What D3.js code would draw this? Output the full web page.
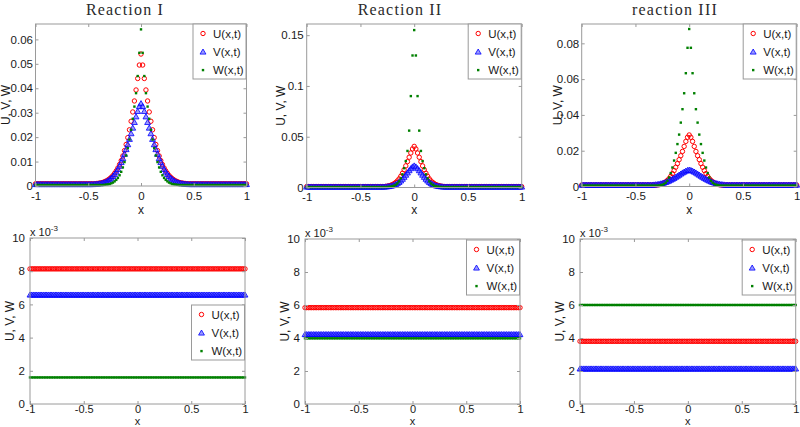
<!DOCTYPE html>
<html><head><meta charset="utf-8">
<script src="https://cdn.jsdelivr.net/npm/d3@7/dist/d3.min.js"></script>
<style>
body{margin:0;background:#fff}
svg{display:block}
text{font-family:"Liberation Sans",Arial,Helvetica,sans-serif}
</style>
</head><body>
<svg id="chart" width="800" height="427"></svg>
<script>
// ---------------- DATA ----------------
// spatial grid (129 points on [-1,1])
const xGrid = [
-1,-0.9844,-0.9688,-0.9531,-0.9375,-0.9219,-0.9063,-0.8906,
-0.875,-0.8594,-0.8438,-0.8281,-0.8125,-0.7969,-0.7813,-0.7656,
-0.75,-0.7344,-0.7188,-0.7031,-0.6875,-0.6719,-0.6563,-0.6406,
-0.625,-0.6094,-0.5938,-0.5781,-0.5625,-0.5469,-0.5313,-0.5156,
-0.5,-0.4844,-0.4688,-0.4531,-0.4375,-0.4219,-0.4063,-0.3906,
-0.375,-0.3594,-0.3438,-0.3281,-0.3125,-0.2969,-0.2813,-0.2656,
-0.25,-0.2344,-0.2188,-0.2031,-0.1875,-0.1719,-0.1563,-0.1406,
-0.125,-0.1094,-0.0938,-0.0781,-0.0625,-0.0469,-0.0313,-0.0156,
0,
0.0156,0.0313,0.0469,0.0625,0.0781,0.0938,0.1094,0.125,
0.1406,0.1563,0.1719,0.1875,0.2031,0.2188,0.2344,0.25,
0.2656,0.2813,0.2969,0.3125,0.3281,0.3438,0.3594,0.375,
0.3906,0.4063,0.4219,0.4375,0.4531,0.4688,0.4844,0.5,
0.5156,0.5313,0.5469,0.5625,0.5781,0.5938,0.6094,0.625,
0.6406,0.6563,0.6719,0.6875,0.7031,0.7188,0.7344,0.75,
0.7656,0.7813,0.7969,0.8125,0.8281,0.8438,0.8594,0.875,
0.8906,0.9063,0.9219,0.9375,0.9531,0.9688,0.9844,1
];

// Reaction I
const r1U = [
0.0009,0.0009,0.0009,0.0009,0.0009,0.0009,0.0009,0.0009,
0.0009,0.0009,0.0009,0.0009,0.0009,0.0009,0.0009,0.0009,
0.0009,0.0009,0.0009,0.0009,0.0009,0.0009,0.0009,0.0009,
0.0009,0.0009,0.0009,0.0009,0.0009,0.0009,0.0009,0.0009,
0.0009,0.0009,0.0009,0.0009,0.0009,0.0010,0.0011,0.0012,0.0013,0.0015,0.0018,0.0021,0.0025,0.0030,0.0036,0.0043,
0.0052,0.0062,0.0074,0.0088,0.0104,0.0123,0.0145,0.0170,0.0198,0.0230,0.0265,0.0303,0.0348,0.0393,0.0440,0.0495,
0.0540,
0.0495,0.0440,0.0393,0.0348,0.0303,0.0265,0.0230,0.0198,0.0170,0.0145,0.0123,0.0104,0.0088,0.0074,0.0062,0.0052,
0.0043,0.0036,0.0030,0.0025,0.0021,0.0018,0.0015,0.0013,0.0012,0.0011,0.0010,0.0009,0.0009,0.0009,0.0009,0.0009,
0.0009,0.0009,0.0009,0.0009,0.0009,0.0009,0.0009,0.0009,
0.0009,0.0009,0.0009,0.0009,0.0009,0.0009,0.0009,0.0009,
0.0009,0.0009,0.0009,0.0009,0.0009,0.0009,0.0009,0.0009,
0.0009,0.0009,0.0009,0.0009,0.0009,0.0009,0.0009,0.0009
];
const r1V = [
0.0007,0.0007,0.0007,0.0007,0.0007,0.0007,0.0007,0.0007,
0.0007,0.0007,0.0007,0.0007,0.0007,0.0007,0.0007,0.0007,
0.0007,0.0007,0.0007,0.0007,0.0007,0.0007,0.0007,0.0007,
0.0007,0.0007,0.0007,0.0007,0.0007,0.0007,0.0007,0.0007,
0.0007,0.0007,0.0007,0.0007,0.0008,0.0008,0.0009,0.0010,0.0011,0.0013,0.0015,0.0018,0.0022,0.0027,0.0033,0.0040,
0.0048,0.0058,0.0069,0.0082,0.0097,0.0113,0.0131,0.0150,0.0170,0.0192,0.0215,0.0238,0.0261,0.0284,0.0306,0.0326,
0.0338,
0.0326,0.0306,0.0284,0.0261,0.0238,0.0215,0.0192,0.0170,0.0150,0.0131,0.0113,0.0097,0.0082,0.0069,0.0058,0.0048,
0.0040,0.0033,0.0027,0.0022,0.0018,0.0015,0.0013,0.0011,0.0010,0.0009,0.0008,0.0008,0.0007,0.0007,0.0007,0.0007,
0.0007,0.0007,0.0007,0.0007,0.0007,0.0007,0.0007,0.0007,
0.0007,0.0007,0.0007,0.0007,0.0007,0.0007,0.0007,0.0007,
0.0007,0.0007,0.0007,0.0007,0.0007,0.0007,0.0007,0.0007,
0.0007,0.0007,0.0007,0.0007,0.0007,0.0007,0.0007,0.0007
];
const r1W = [
0.0004,0.0004,0.0004,0.0004,0.0004,0.0004,0.0004,0.0004,
0.0004,0.0004,0.0004,0.0004,0.0004,0.0004,0.0004,0.0004,
0.0004,0.0004,0.0004,0.0004,0.0004,0.0004,0.0004,0.0004,
0.0004,0.0004,0.0004,0.0004,0.0004,0.0004,0.0004,0.0004,
0.0004,0.0004,0.0004,0.0004,0.0004,0.0004,0.0004,0.0004,0.0004,0.0004,0.0005,0.0006,0.0007,0.0008,0.0011,0.0014,
0.0019,0.0025,0.0033,0.0044,0.0058,0.0076,0.0098,0.0125,0.0155,0.0190,0.0230,0.0275,0.0325,0.0380,0.0450,0.0545,
0.0641,
0.0545,0.0450,0.0380,0.0325,0.0275,0.0230,0.0190,0.0155,0.0125,0.0098,0.0076,0.0058,0.0044,0.0033,0.0025,0.0019,
0.0014,0.0011,0.0008,0.0007,0.0006,0.0005,0.0004,0.0004,0.0004,0.0004,0.0004,0.0004,0.0004,0.0004,0.0004,0.0004,
0.0004,0.0004,0.0004,0.0004,0.0004,0.0004,0.0004,0.0004,
0.0004,0.0004,0.0004,0.0004,0.0004,0.0004,0.0004,0.0004,
0.0004,0.0004,0.0004,0.0004,0.0004,0.0004,0.0004,0.0004,
0.0004,0.0004,0.0004,0.0004,0.0004,0.0004,0.0004,0.0004
];

// Reaction II
const r2U = [
0.0009,0.0009,0.0009,0.0009,0.0009,0.0009,0.0009,0.0009,
0.0009,0.0009,0.0009,0.0009,0.0009,0.0009,0.0009,0.0009,
0.0009,0.0009,0.0009,0.0009,0.0009,0.0009,0.0009,0.0009,
0.0009,0.0009,0.0009,0.0009,0.0009,0.0009,0.0009,0.0009,
0.0009,0.0009,0.0009,0.0009,0.0009,0.0009,0.0009,0.0009,0.0009,0.0009,0.0009,0.0009,0.0009,0.0009,0.0009,0.0011,
0.0013,0.0017,0.0022,0.0029,0.0038,0.0050,0.0065,0.0085,0.0110,0.0140,0.0175,0.0213,0.0255,0.0298,0.0340,0.0380,
0.0405,
0.0380,0.0340,0.0298,0.0255,0.0213,0.0175,0.0140,0.0110,0.0085,0.0065,0.0050,0.0038,0.0029,0.0022,0.0017,0.0013,
0.0011,0.0009,0.0009,0.0009,0.0009,0.0009,0.0009,0.0009,0.0009,0.0009,0.0009,0.0009,0.0009,0.0009,0.0009,0.0009,
0.0009,0.0009,0.0009,0.0009,0.0009,0.0009,0.0009,0.0009,
0.0009,0.0009,0.0009,0.0009,0.0009,0.0009,0.0009,0.0009,
0.0009,0.0009,0.0009,0.0009,0.0009,0.0009,0.0009,0.0009,
0.0009,0.0009,0.0009,0.0009,0.0009,0.0009,0.0009,0.0009
];
const r2V = [
0.0007,0.0007,0.0007,0.0007,0.0007,0.0007,0.0007,0.0007,
0.0007,0.0007,0.0007,0.0007,0.0007,0.0007,0.0007,0.0007,
0.0007,0.0007,0.0007,0.0007,0.0007,0.0007,0.0007,0.0007,
0.0007,0.0007,0.0007,0.0007,0.0007,0.0007,0.0007,0.0007,
0.0007,0.0007,0.0007,0.0007,0.0007,0.0007,0.0007,0.0007,0.0007,0.0007,0.0007,0.0007,0.0007,0.0007,0.0007,0.0008,
0.0010,0.0012,0.0015,0.0019,0.0025,0.0032,0.0041,0.0053,0.0067,0.0084,0.0103,0.0124,0.0146,0.0168,0.0188,0.0205,
0.0215,
0.0205,0.0188,0.0168,0.0146,0.0124,0.0103,0.0084,0.0067,0.0053,0.0041,0.0032,0.0025,0.0019,0.0015,0.0012,0.0010,
0.0008,0.0007,0.0007,0.0007,0.0007,0.0007,0.0007,0.0007,0.0007,0.0007,0.0007,0.0007,0.0007,0.0007,0.0007,0.0007,
0.0007,0.0007,0.0007,0.0007,0.0007,0.0007,0.0007,0.0007,
0.0007,0.0007,0.0007,0.0007,0.0007,0.0007,0.0007,0.0007,
0.0007,0.0007,0.0007,0.0007,0.0007,0.0007,0.0007,0.0007,
0.0007,0.0007,0.0007,0.0007,0.0007,0.0007,0.0007,0.0007
];
const r2W = [
0.0004,0.0004,0.0004,0.0004,0.0004,0.0004,0.0004,0.0004,
0.0004,0.0004,0.0004,0.0004,0.0004,0.0004,0.0004,0.0004,
0.0004,0.0004,0.0004,0.0004,0.0004,0.0004,0.0004,0.0004,
0.0004,0.0004,0.0004,0.0004,0.0004,0.0004,0.0004,0.0004,
0.0004,0.0004,0.0004,0.0004,0.0004,0.0004,0.0004,0.0004,0.0004,0.0004,0.0004,0.0004,0.0004,0.0004,0.0004,0.0004,
0.0005,0.0007,0.0009,0.0012,0.0018,0.0027,0.0040,0.0060,0.0090,0.0130,0.0190,0.0260,0.0360,0.0560,0.0900,0.1300,
0.1550,
0.1300,0.0900,0.0560,0.0360,0.0260,0.0190,0.0130,0.0090,0.0060,0.0040,0.0027,0.0018,0.0012,0.0009,0.0007,0.0005,
0.0004,0.0004,0.0004,0.0004,0.0004,0.0004,0.0004,0.0004,0.0004,0.0004,0.0004,0.0004,0.0004,0.0004,0.0004,0.0004,
0.0004,0.0004,0.0004,0.0004,0.0004,0.0004,0.0004,0.0004,
0.0004,0.0004,0.0004,0.0004,0.0004,0.0004,0.0004,0.0004,
0.0004,0.0004,0.0004,0.0004,0.0004,0.0004,0.0004,0.0004,
0.0004,0.0004,0.0004,0.0004,0.0004,0.0004,0.0004,0.0004
];

// reaction III
const r3U = [
0.0008,0.0008,0.0008,0.0008,0.0008,0.0008,0.0008,0.0008,
0.0008,0.0008,0.0008,0.0008,0.0008,0.0008,0.0008,0.0008,
0.0008,0.0008,0.0008,0.0008,0.0008,0.0008,0.0008,0.0008,
0.0008,0.0008,0.0008,0.0008,0.0008,0.0008,0.0008,0.0008,
0.0008,0.0008,0.0008,0.0008,0.0008,0.0008,0.0008,0.0008,0.0008,0.0008,0.0008,0.0008,0.0008,0.0009,0.0010,0.0012,
0.0015,0.0020,0.0026,0.0034,0.0044,0.0057,0.0072,0.0089,0.0108,0.0128,0.0150,0.0172,0.0196,0.0224,0.0252,0.0275,
0.0288,
0.0275,0.0252,0.0224,0.0196,0.0172,0.0150,0.0128,0.0108,0.0089,0.0072,0.0057,0.0044,0.0034,0.0026,0.0020,0.0015,
0.0012,0.0010,0.0009,0.0008,0.0008,0.0008,0.0008,0.0008,0.0008,0.0008,0.0008,0.0008,0.0008,0.0008,0.0008,0.0008,
0.0008,0.0008,0.0008,0.0008,0.0008,0.0008,0.0008,0.0008,
0.0008,0.0008,0.0008,0.0008,0.0008,0.0008,0.0008,0.0008,
0.0008,0.0008,0.0008,0.0008,0.0008,0.0008,0.0008,0.0008,
0.0008,0.0008,0.0008,0.0008,0.0008,0.0008,0.0008,0.0008
];
const r3V = [
0.0009,0.0009,0.0009,0.0009,0.0009,0.0009,0.0009,0.0009,
0.0009,0.0009,0.0009,0.0009,0.0009,0.0009,0.0009,0.0009,
0.0009,0.0009,0.0009,0.0009,0.0009,0.0009,0.0009,0.0009,
0.0009,0.0009,0.0009,0.0009,0.0009,0.0009,0.0009,0.0009,
0.0009,0.0009,0.0009,0.0009,0.0009,0.0009,0.0009,0.0009,0.0009,0.0009,0.0009,0.0010,0.0011,0.0012,0.0014,0.0016,
0.0018,0.0021,0.0024,0.0028,0.0032,0.0037,0.0042,0.0047,0.0053,0.0059,0.0065,0.0071,0.0077,0.0082,0.0087,0.0091,
0.0093,
0.0091,0.0087,0.0082,0.0077,0.0071,0.0065,0.0059,0.0053,0.0047,0.0042,0.0037,0.0032,0.0028,0.0024,0.0021,0.0018,
0.0016,0.0014,0.0012,0.0011,0.0010,0.0009,0.0009,0.0009,0.0009,0.0009,0.0009,0.0009,0.0009,0.0009,0.0009,0.0009,
0.0009,0.0009,0.0009,0.0009,0.0009,0.0009,0.0009,0.0009,
0.0009,0.0009,0.0009,0.0009,0.0009,0.0009,0.0009,0.0009,
0.0009,0.0009,0.0009,0.0009,0.0009,0.0009,0.0009,0.0009,
0.0009,0.0009,0.0009,0.0009,0.0009,0.0009,0.0009,0.0009
];
const r3W = [
0.0005,0.0005,0.0005,0.0005,0.0005,0.0005,0.0005,0.0005,
0.0005,0.0005,0.0005,0.0005,0.0005,0.0005,0.0005,0.0005,
0.0005,0.0005,0.0005,0.0005,0.0005,0.0005,0.0005,0.0005,
0.0005,0.0005,0.0005,0.0005,0.0005,0.0005,0.0005,0.0005,
0.0005,0.0005,0.0005,0.0005,0.0005,0.0005,0.0005,0.0005,0.0005,0.0005,0.0005,0.0005,0.0005,0.0005,0.0006,0.0008,
0.0010,0.0014,0.0021,0.0032,0.0050,0.0075,0.0106,0.0145,0.0188,0.0237,0.0290,0.0357,0.0432,0.0521,0.0633,0.0775,
0.0880,
0.0775,0.0633,0.0521,0.0432,0.0357,0.0290,0.0237,0.0188,0.0145,0.0106,0.0075,0.0050,0.0032,0.0021,0.0014,0.0010,
0.0008,0.0006,0.0005,0.0005,0.0005,0.0005,0.0005,0.0005,0.0005,0.0005,0.0005,0.0005,0.0005,0.0005,0.0005,0.0005,
0.0005,0.0005,0.0005,0.0005,0.0005,0.0005,0.0005,0.0005,
0.0005,0.0005,0.0005,0.0005,0.0005,0.0005,0.0005,0.0005,
0.0005,0.0005,0.0005,0.0005,0.0005,0.0005,0.0005,0.0005,
0.0005,0.0005,0.0005,0.0005,0.0005,0.0005,0.0005,0.0005
];

// Bottom row: constant (flat) profiles, one level per reaction [I, II, III]
const flatU = [0.00814, 0.00584, 0.00380];
const flatV = [0.00658, 0.00422, 0.00214];
const flatW = [0.00160, 0.00398, 0.00600];

// titles, series names, ticks
const titles = ["Reaction I", "Reaction II", "reaction III"];
const seriesNames = ["U(x,t)", "V(x,t)", "W(x,t)"];
const xTicks = [-1, -0.5, 0, 0.5, 1];
const xTickLabels = ["-1", "-0.5", "0", "0.5", "1"];
const yTicksTop = [
  [0, 0.01, 0.02, 0.03, 0.04, 0.05, 0.06],
  [0, 0.05, 0.1, 0.15],
  [0, 0.02, 0.04, 0.06, 0.08]
];
const yTickLabelsTop = [
  ["0", "0.01", "0.02", "0.03", "0.04", "0.05", "0.06"],
  ["0", "0.05", "0.1", "0.15"],
  ["0", "0.02", "0.04", "0.06", "0.08"]
];
const yTicksBottom = [0, 0.002, 0.004, 0.006, 0.008, 0.01];
const yTickLabelsBottom = ["0", "2", "4", "6", "8", "10"];
const yMaxTop = [0.0663, 0.161, 0.0908];
const yMaxBottom = 0.01;

// ---------------- LAYOUT ----------------
[r1U,r1V,r1W,r2U,r2V,r2W,r3U,r3V,r3W].forEach((a,i)=>{
  if (a.length !== xGrid.length) throw new Error("length mismatch series " + i + ": " + a.length);
});

const svg = d3.select("#chart");
const colU = "#ff0000", colV = "#0000ff", colW = "#008000";
const frameCol = "#9a9a9a", textCol = "#1a1a1a";

const topBoxes = [
  {l:35.5, r:246.5, t:24, b:186, ylabX:10, titleX:125, legY:24, tickBase:14, xlabY:213.5, xlabSize:12, yPad:2.5, xFont:11.5},
  {l:306.7, r:521.7, t:24, b:187.5, ylabX:285, titleX:400, legY:24, tickBase:13.5, xlabY:213.5, xlabSize:12, yPad:3, xFont:11.5},
  {l:581.7, r:796.7, t:24, b:186.5, ylabX:562, titleX:675, legY:24, tickBase:13.5, xlabY:213.5, xlabSize:12, yPad:2.5, xFont:11.5}
];
const botBoxes = [
  {l:30, r:245, t:238, b:404, ylabX:14, legY:305, tickBase:9.5, xlabY:424.5, xlabSize:11, yPad:5, xFont:11},
  {l:305, r:520, t:239, b:404, ylabX:289, legY:240, tickBase:9.5, xlabY:424.5, xlabSize:11, yPad:5, xFont:11},
  {l:580, r:795.7, t:239, b:404, ylabX:564, legY:240, tickBase:9.5, xlabY:424.5, xlabSize:11, yPad:5, xFont:11}
];

const triPath = d3.symbol().type(d3.symbolTriangle).size(15)();

function drawMarkers(g, pts, kind) {
  if (kind === 0) {
    g.selectAll(null).data(pts).join("circle")
      .attr("cx", d => d[0]).attr("cy", d => d[1]).attr("r", 2.2)
      .attr("fill", "none").attr("stroke", colU).attr("stroke-width", 1);
  } else if (kind === 1) {
    g.selectAll(null).data(pts).join("path")
      .attr("d", triPath)
      .attr("transform", d => `translate(${d[0]},${d[1] + 0.6})`)
      .attr("fill", "rgba(70,70,255,0.55)").attr("stroke", colV).attr("stroke-width", 0.8);
  } else {
    g.selectAll(null).data(pts).join("rect")
      .attr("x", d => d[0] - 1.2).attr("y", d => d[1] - 1.2)
      .attr("width", 2.4).attr("height", 2.4)
      .attr("fill", colW);
  }
}

function drawPanel(box, yMax, yTicks, yLabels, seriesList, isBottom) {
  const g = svg.append("g");
  const x = d3.scaleLinear().domain([-1, 1]).range([box.l, box.r]);
  const y = d3.scaleLinear().domain([0, yMax]).range([box.b, box.t]);

  // series
  seriesList.forEach((vals, k) => {
    const pts = xGrid.map((xv, i) => [x(xv), y(vals[i])]);
    drawMarkers(g.append("g"), pts, k);
  });

  // axes
  const axB = d3.axisBottom(x).tickValues(xTicks).tickFormat((d, i) => xTickLabels[i])
    .tickSize(-3).tickPadding(box.tickBase - 8.2);
  const gb = g.append("g").attr("transform", `translate(0,${box.b})`).call(axB);
  const axL = d3.axisLeft(y).tickValues(yTicks).tickFormat((d, i) => yLabels[i])
    .tickSize(-3).tickPadding(box.yPad);
  const gl = g.append("g").attr("transform", `translate(${box.l},0)`).call(axL);
  const axT = d3.axisTop(x).tickValues(xTicks).tickFormat("").tickSize(-3);
  const gt = g.append("g").attr("transform", `translate(0,${box.t})`).call(axT);
  const axR = d3.axisRight(y).tickValues(yTicks).tickFormat("").tickSize(-3);
  const gr = g.append("g").attr("transform", `translate(${box.r},0)`).call(axR);
  [gb, gl, gt, gr].forEach(a => {
    a.select(".domain").remove();
    a.selectAll(".tick line").attr("stroke", frameCol);
    a.selectAll(".tick text").attr("fill", textCol)
      .style("font-family", '"Liberation Sans",Arial,sans-serif').style("font-size", "11.5px");
  });
  gb.selectAll(".tick text").style("font-size", box.xFont + "px");

  // frame
  g.append("rect").attr("x", box.l).attr("y", box.t)
    .attr("width", box.r - box.l).attr("height", box.b - box.t)
    .attr("fill", "none").attr("stroke", frameCol).attr("stroke-width", 1);

  // axis labels
  g.append("text").attr("x", (box.l + box.r) / 2).attr("y", box.xlabY)
    .attr("text-anchor", "middle").attr("fill", textCol).style("font-size", box.xlabSize + "px").text("x");
  g.append("text").attr("transform", `translate(${box.ylabX},${(box.t + box.b) / 2}) rotate(-90)`)
    .attr("text-anchor", "middle").attr("fill", textCol).style("font-size", "12px").text("U, V, W");

  if (isBottom) {
    const ex = g.append("text").attr("x", box.l).attr("y", box.t - 2.3)
      .attr("fill", textCol).style("font-size", "11px");
    ex.append("tspan").text("x 10");
    ex.append("tspan").attr("dy", -5).style("font-size", "8px").text("-3");
  }

  // legend
  const lw = 53, lh = 55;
  const lx = box.r - lw - 0.5, ly = box.legY;
  const lg = g.append("g");
  lg.append("rect").attr("x", lx).attr("y", ly).attr("width", lw).attr("height", lh)
    .attr("fill", "#fff").attr("stroke", frameCol).attr("stroke-width", 1);
  seriesNames.forEach((name, k) => {
    const ry = ly + 9.5 + k * 18.3;
    drawMarkers(lg.append("g"), [[lx + 10, ry]], k);
    lg.append("text").attr("x", lx + 20).attr("y", ry + 4)
      .attr("fill", textCol).style("font-size", "11.5px").text(name);
  });
}

const topSeries = [[r1U, r1V, r1W], [r2U, r2V, r2W], [r3U, r3V, r3W]];
for (let p = 0; p < 3; p++) {
  drawPanel(topBoxes[p], yMaxTop[p], yTicksTop[p], yTickLabelsTop[p], topSeries[p], false);
  svg.append("text").attr("x", topBoxes[p].titleX).attr("y", 14.5)
    .attr("text-anchor", "middle").attr("fill", "#2a2a2a")
    .style("font-family", '"Liberation Serif","Times New Roman",serif')
    .style("font-size", "16px").style("letter-spacing", "1.2px")
    .text(titles[p]);
}
for (let p = 0; p < 3; p++) {
  const levels = [flatU[p], flatV[p], flatW[p]];
  const series = levels.map(v => xGrid.map(() => v));
  drawPanel(botBoxes[p], yMaxBottom, yTicksBottom, yTickLabelsBottom, series, true);
}
</script>
</body></html>
